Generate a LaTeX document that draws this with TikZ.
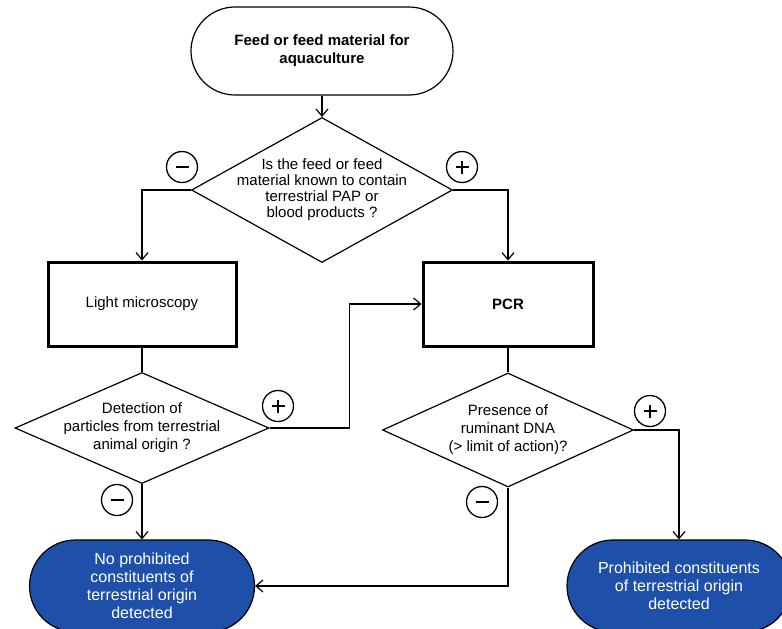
\documentclass[tikz,border=0pt]{standalone}
\usepackage{fontspec}
\setmainfont{Liberation Sans}
\usetikzlibrary{shapes.geometric,shapes.misc,arrows.meta}
\definecolor{termblue}{RGB}{30,80,170}
\begin{document}
\begin{tikzpicture}[x=1pt,y=-1pt,
  conn/.style={line width=1.2pt},
  arr/.style={conn,-{Straight Barb[length=7pt,width=12pt,line width=1.2pt]}},
  termwhite/.style={draw,line width=1.2pt,rounded rectangle,align=center,inner sep=0pt,
    font=\fontsize{15}{18}\selectfont\bfseries},
  termblue/.style={draw,line width=1.2pt,rounded rectangle,fill=termblue,text=white,align=center,
    inner sep=0pt,minimum width=225pt,minimum height=92pt,font=\fontsize{16}{18}\selectfont},
  decision/.style={draw,diamond,line width=1.2pt,inner sep=0pt},
  dtext/.style={align=center,inner sep=0pt,font=\fontsize{15}{18}\selectfont},
  procbox/.style={draw,rectangle,line width=3pt,align=center,minimum height=84pt,
    font=\fontsize{15}{18}\selectfont},
  sign/.style={draw,circle,line width=1.3pt,minimum size=31pt,inner sep=0pt}
]
\useasboundingbox (0,0) rectangle (782,629);

% nodes
\node[termwhite,minimum width=262pt,minimum height=88pt] (start) at (322,51)
  {Feed or feed material for\\aquaculture};
\node[decision,minimum width=261pt,minimum height=145pt] (d1) at (322,190) {};
\node[dtext,font=\fontsize{15}{16}\selectfont] (d1t) at (d1.center)
  {Is the feed or feed\\material known to contain\\terrestrial PAP or\\blood products ?};
\node[procbox,minimum width=188pt] (lm) at (142,304) {Light microscopy};
\node[procbox,minimum width=170pt,font=\fontsize{15}{18}\selectfont\bfseries] (pcr) at (508,304) {PCR};
\node[decision,minimum width=254pt,minimum height=111pt] (d2) at (142,428) {};
\node[dtext] (d2t) at (d2.center)
  {Detection of\\particles from terrestrial\\animal origin ?};
\node[decision,minimum width=251pt,minimum height=114pt] (d3) at (508,430) {};
\node[dtext] (d3t) at (d3.center)
  {Presence of\\ruminant DNA\\(> limit of action)?};
\node[termblue] (neg) at (142,586)
  {No prohibited\\constituents of\\terrestrial origin\\detected};
\node[termblue,minimum width=224pt] (pos) at (679,586)
  {Prohibited constituents\\of terrestrial origin\\detected};

% signs
\newcommand{\minussign}{\makebox[0pt]{\rule[-1.3pt]{13pt}{2.6pt}}}
\newcommand{\plussign}{\makebox[0pt]{\rule[-1.3pt]{13pt}{2.6pt}}\makebox[0pt]{\rule[-6.5pt]{2.6pt}{13pt}}}
\node[sign] (m1) at (182,167) {\minussign};
\node[sign] (p1) at (462,167) {\plussign};
\node[sign] (p2) at (278,406) {\plussign};
\node[sign] (m2) at (117,500) {\minussign};
\node[sign] (p3) at (650,411) {\plussign};
\node[sign] (m3) at (482,502) {\minussign};

% connectors
\draw[arr] (start.south) -- (d1.north);
\draw[arr] (d1.west) -| (lm.north);
\draw[arr] (d1.east) -| (pcr.north);
\draw[conn] (lm.south) -- (d2.north);
\draw[conn] (pcr.south) -- (d3.north);
\draw[arr] (d2.east) -- ++(80,0) |- (pcr.west);
\draw[arr] (d2.south) -- (neg.north);
\draw[arr] (d3.east) -| (pos.north);
\draw[arr] (d3.south) |- (neg.east);
\end{tikzpicture}
\end{document}
